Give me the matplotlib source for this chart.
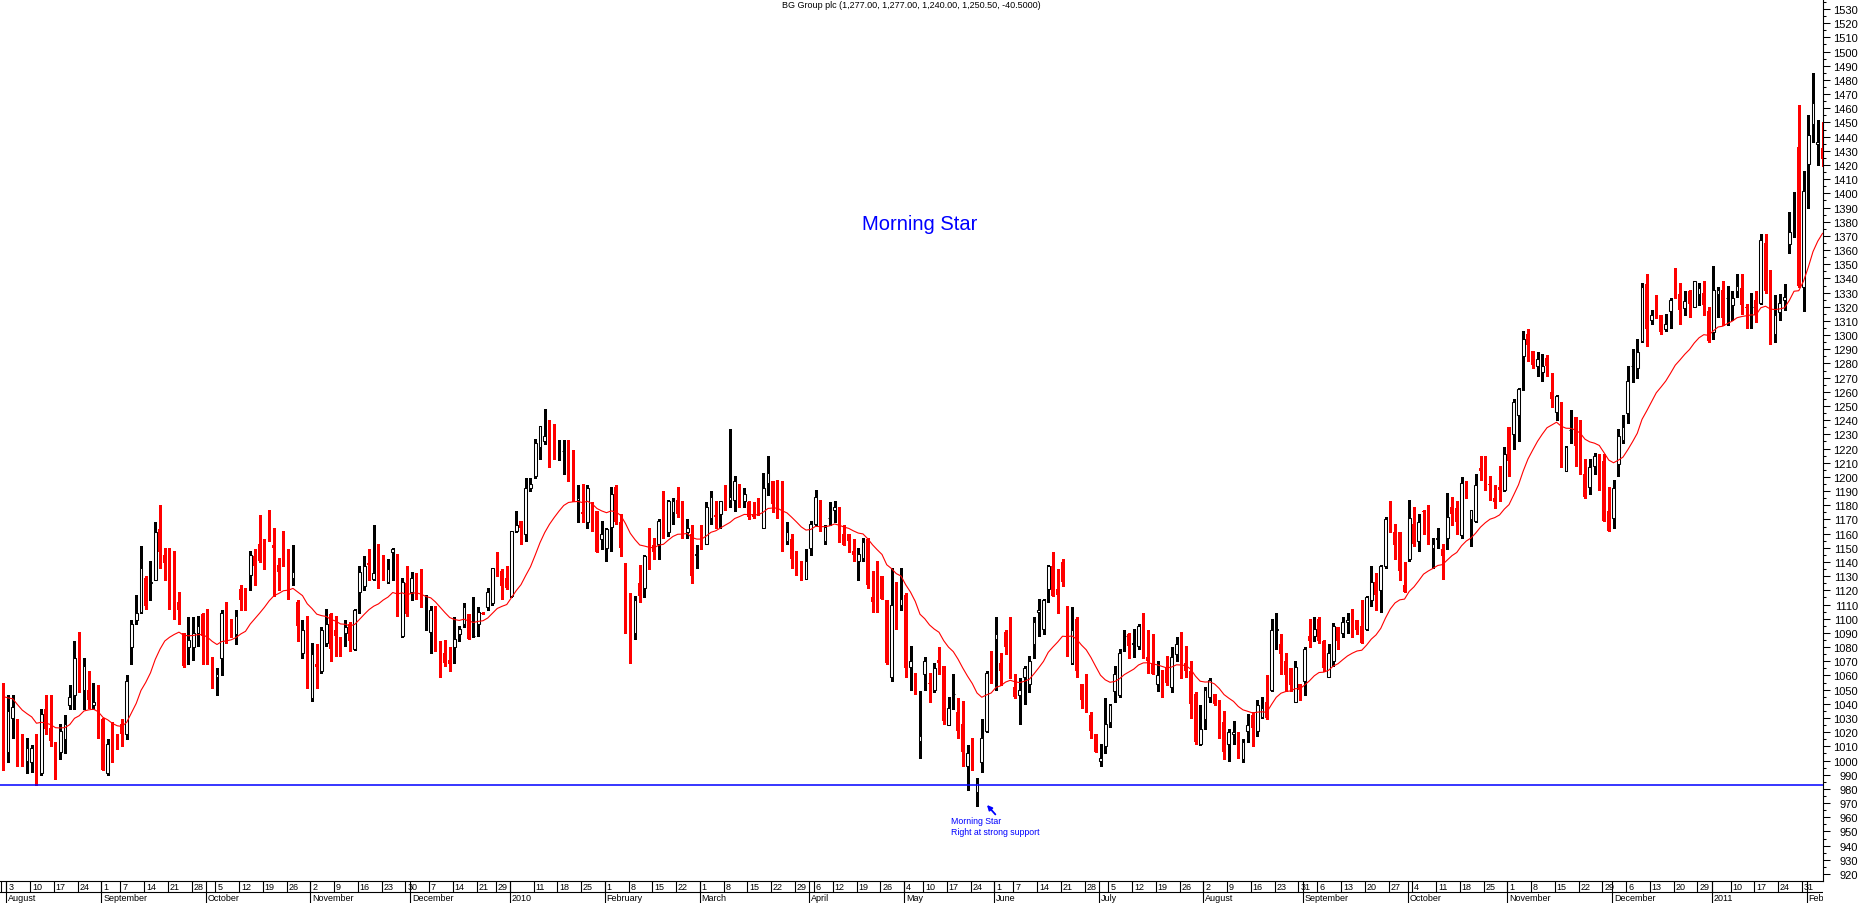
import numpy as np
import pandas as pd
import matplotlib.pyplot as plt
from matplotlib.ticker import MultipleLocator

plt.rcParams['font.family'] = ['Liberation Sans', 'DejaVu Sans']

# daily candles, BG Group plc, 31 Jul 2009 .. 4 Feb 2011
opens = [1038, 1006, 1030, 1016, 1003, 1000, 999, 1008, 991, 1036, 1023, 1010, 1006, 1015, 1039, 1046,
         1088, 1050, 1050, 1039, 1051, 1029, 991, 1022, 1013, 1026, 1019, 1080, 1099, 1105, 1129, 1125,
         1127, 1163, 1145, 1142, 1110, 1112, 1090, 1080, 1080, 1090, 1103, 1090, 1066, 1059, 1072, 1098,
         1097, 1089, 1121, 1116, 1131, 1144, 1153, 1151, 1164, 1152, 1138, 1139, 1148, 1129, 1112, 1076,
         1090, 1044, 1068, 1063, 1083, 1103, 1092, 1086, 1090, 1096, 1079, 1119, 1123, 1139, 1128, 1145,
         1141, 1126, 1147, 1143, 1088, 1125, 1119, 1122, 1134, 1100, 1091, 1093, 1080, 1076, 1071, 1080,
         1089, 1096, 1103, 1088, 1096, 1104, 1108, 1111, 1147, 1134, 1129, 1116, 1162, 1169, 1160, 1192,
         1201, 1221, 1225, 1236, 1228, 1218, 1218, 1206, 1210, 1184, 1175, 1168, 1177, 1176, 1156, 1150,
         1165, 1193, 1168, 1115, 1114, 1090, 1125, 1122, 1159, 1152, 1153, 1189, 1161, 1175, 1184, 1177,
         1161, 1160, 1145, 1162, 1153, 1171, 1173, 1174, 1193, 1184, 1184, 1186, 1183, 1182, 1174, 1177,
         1164, 1196, 1197, 1185, 1181, 1155, 1156, 1143, 1137, 1128, 1150, 1167, 1177, 1155, 1171, 1177,
         1178, 1160, 1160, 1148, 1141, 1143, 1156, 1115, 1119, 1130, 1113, 1059, 1119, 1110, 1117, 1066,
         1062, 1014, 1061, 1055, 1050, 1071, 1067, 1025, 1047, 1034, 1026, 996, 1016, 978, 999, 1021,
         1074, 1086, 1069, 1091, 1088, 1052, 1046, 1059, 1054, 1082, 1105, 1093, 1121, 1137, 1121, 1140,
         1100, 1069, 1100, 1054, 1054, 1032, 1019, 1000, 1010, 1027, 1049, 1046, 1088, 1089, 1082, 1081,
         1104, 1073, 1069, 1054, 1064, 1066, 1052, 1075, 1090, 1069, 1063, 1047, 1012, 1029, 1045, 1047,
         1043, 1027, 1012, 1019, 1012, 1001, 1021, 1032, 1021, 1031, 1041, 1050, 1092, 1082, 1070, 1065,
         1041, 1054, 1056, 1088, 1088, 1100, 1084, 1059, 1070, 1094, 1090, 1098, 1103, 1099, 1095, 1093,
         1113, 1126, 1120, 1137, 1171, 1161, 1161, 1124, 1142, 1167, 1155, 1176, 1180, 1150, 1156, 1149,
         1157, 1179, 1178, 1159, 1191, 1170, 1169, 1206, 1210, 1195, 1185, 1193, 1191, 1235, 1230, 1244,
         1285, 1301, 1289, 1278, 1274, 1284, 1260, 1246, 1248, 1204, 1233, 1242, 1234, 1202, 1193, 1208,
         1209, 1211, 1176, 1171, 1209, 1226, 1245, 1278, 1277, 1296, 1336, 1311, 1327, 1314, 1304, 1317,
         1336, 1329, 1319, 1331, 1320, 1329, 1330, 1317, 1302, 1329, 1332, 1326, 1321, 1331, 1333, 1320,
         1320, 1325, 1323, 1365, 1335, 1301, 1316, 1325, 1364, 1393, 1433, 1334, 1421, 1449, 1435, 1432]
highs = [1055, 1046, 1046, 1029, 1019, 1016, 1011, 1019, 1036, 1046, 1046, 1013, 1026, 1032, 1053, 1084,
         1091, 1072, 1063, 1055, 1053, 1030, 1015, 1027, 1019, 1029, 1060, 1099, 1117, 1151, 1130, 1141,
         1168, 1180, 1150, 1150, 1148, 1119, 1090, 1101, 1101, 1102, 1104, 1107, 1073, 1065, 1106, 1112,
         1100, 1106, 1124, 1122, 1148, 1149, 1173, 1156, 1177, 1164, 1143, 1162, 1149, 1152, 1113, 1099,
         1102, 1083, 1082, 1094, 1107, 1104, 1102, 1087, 1099, 1098, 1107, 1137, 1144, 1149, 1166, 1153,
         1145, 1142, 1150, 1146, 1129, 1137, 1133, 1132, 1135, 1117, 1109, 1109, 1084, 1085, 1080, 1101,
         1095, 1111, 1103, 1115, 1108, 1105, 1122, 1136, 1147, 1135, 1137, 1162, 1176, 1169, 1199, 1199,
         1227, 1236, 1248, 1240, 1237, 1226, 1226, 1226, 1219, 1194, 1195, 1194, 1182, 1176, 1169, 1164,
         1193, 1194, 1174, 1139, 1118, 1116, 1138, 1145, 1164, 1157, 1170, 1190, 1184, 1185, 1193, 1183,
         1170, 1166, 1152, 1166, 1182, 1190, 1183, 1183, 1194, 1234, 1201, 1195, 1192, 1183, 1182, 1185,
         1203, 1215, 1197, 1198, 1197, 1168, 1160, 1148, 1141, 1149, 1169, 1191, 1184, 1166, 1182, 1183,
         1179, 1166, 1160, 1156, 1150, 1157, 1157, 1134, 1141, 1130, 1113, 1136, 1126, 1136, 1118, 1081,
         1062, 1049, 1073, 1062, 1069, 1080, 1067, 1045, 1061, 1044, 1042, 1011, 1016, 988, 1029, 1063,
         1077, 1101, 1076, 1092, 1101, 1061, 1058, 1067, 1074, 1101, 1114, 1114, 1138, 1147, 1135, 1142,
         1109, 1108, 1101, 1054, 1061, 1034, 1019, 1012, 1044, 1040, 1067, 1079, 1092, 1090, 1093, 1096,
         1104, 1092, 1089, 1070, 1064, 1074, 1080, 1087, 1091, 1081, 1070, 1048, 1039, 1052, 1058, 1047,
         1043, 1035, 1022, 1028, 1020, 1015, 1033, 1034, 1043, 1045, 1060, 1100, 1104, 1089, 1076, 1065,
         1070, 1054, 1080, 1100, 1101, 1101, 1085, 1082, 1097, 1094, 1101, 1104, 1107, 1099, 1113, 1116,
         1137, 1132, 1138, 1172, 1183, 1167, 1161, 1140, 1184, 1179, 1174, 1177, 1180, 1157, 1164, 1153,
         1189, 1186, 1183, 1200, 1197, 1177, 1202, 1215, 1215, 1201, 1194, 1208, 1221, 1235, 1255, 1263,
         1303, 1304, 1289, 1288, 1287, 1286, 1273, 1258, 1253, 1222, 1247, 1242, 1240, 1213, 1213, 1217,
         1216, 1216, 1193, 1198, 1234, 1244, 1278, 1290, 1297, 1337, 1343, 1318, 1328, 1314, 1315, 1326,
         1347, 1337, 1331, 1332, 1338, 1337, 1338, 1320, 1349, 1334, 1338, 1335, 1331, 1343, 1343, 1322,
         1330, 1331, 1371, 1371, 1346, 1328, 1329, 1336, 1387, 1401, 1462, 1416, 1455, 1485, 1452, 1450]
lows = [993, 999, 1016, 996, 996, 991, 992, 983, 990, 1019, 1010, 987, 1001, 1005, 1036, 1036,
        1048, 1036, 1037, 1036, 1016, 993, 990, 999, 1008, 1010, 1015, 1068, 1096, 1104, 1107, 1113,
        1127, 1136, 1127, 1107, 1100, 1096, 1066, 1068, 1071, 1081, 1068, 1068, 1051, 1046, 1060, 1083,
        1087, 1082, 1106, 1106, 1120, 1124, 1140, 1135, 1155, 1116, 1120, 1137, 1114, 1124, 1084, 1072,
        1051, 1042, 1051, 1062, 1081, 1070, 1074, 1074, 1081, 1077, 1078, 1104, 1120, 1127, 1127, 1122,
        1127, 1125, 1127, 1102, 1087, 1102, 1113, 1114, 1108, 1092, 1076, 1077, 1059, 1067, 1063, 1069,
        1084, 1094, 1086, 1087, 1088, 1103, 1106, 1110, 1130, 1114, 1121, 1115, 1161, 1153, 1155, 1190,
        1199, 1213, 1223, 1207, 1213, 1212, 1202, 1197, 1183, 1168, 1168, 1164, 1162, 1147, 1149, 1141,
        1148, 1167, 1144, 1090, 1069, 1086, 1112, 1115, 1135, 1142, 1142, 1157, 1158, 1167, 1172, 1157,
        1157, 1125, 1136, 1149, 1153, 1167, 1164, 1164, 1177, 1179, 1176, 1179, 1179, 1170, 1171, 1173,
        1164, 1187, 1175, 1171, 1148, 1153, 1136, 1131, 1127, 1128, 1145, 1166, 1162, 1153, 1166, 1168,
        1154, 1152, 1147, 1141, 1127, 1141, 1122, 1105, 1105, 1114, 1068, 1056, 1093, 1106, 1059, 1050,
        1047, 1002, 1050, 1041, 1048, 1061, 1026, 1025, 1036, 1016, 996, 979, 993, 968, 992, 1020,
        1055, 1050, 1053, 1075, 1058, 1044, 1026, 1040, 1048, 1072, 1088, 1089, 1112, 1116, 1104, 1123,
        1074, 1068, 1059, 1037, 1034, 1016, 1006, 996, 1005, 1024, 1041, 1045, 1077, 1072, 1073, 1079,
        1072, 1062, 1061, 1049, 1045, 1053, 1048, 1070, 1058, 1059, 1030, 1012, 1011, 1022, 1041, 1039,
        1016, 1001, 1000, 1012, 1002, 999, 1013, 1010, 1017, 1030, 1029, 1049, 1079, 1061, 1049, 1049,
        1041, 1043, 1046, 1080, 1084, 1083, 1063, 1059, 1067, 1079, 1087, 1090, 1087, 1089, 1083, 1092,
        1109, 1106, 1105, 1136, 1161, 1142, 1127, 1119, 1141, 1151, 1148, 1160, 1153, 1136, 1150, 1128,
        1149, 1166, 1160, 1157, 1185, 1151, 1168, 1198, 1191, 1184, 1178, 1183, 1190, 1201, 1220, 1225,
        1261, 1282, 1277, 1271, 1268, 1271, 1249, 1240, 1207, 1204, 1224, 1208, 1202, 1185, 1188, 1202,
        1191, 1169, 1162, 1164, 1201, 1224, 1238, 1267, 1270, 1295, 1292, 1308, 1312, 1301, 1303, 1305,
        1326, 1308, 1314, 1313, 1320, 1321, 1314, 1295, 1297, 1313, 1307, 1307, 1311, 1327, 1315, 1305,
        1305, 1309, 1322, 1330, 1294, 1295, 1311, 1318, 1358, 1369, 1334, 1317, 1390, 1436, 1420, 1419]
closes = [999, 1035, 1038, 1000, 999, 1009, 1009, 984, 1033, 1022, 1014, 1003, 1021, 1026, 1045, 1072,
          1049, 1067, 1043, 1041, 1017, 993, 1012, 1002, 1009, 1019, 1056, 1096, 1104, 1136, 1109, 1126,
          1161, 1147, 1139, 1112, 1108, 1106, 1067, 1085, 1090, 1095, 1088, 1070, 1056, 1061, 1104, 1089,
          1092, 1102, 1113, 1109, 1145, 1137, 1141, 1147, 1156, 1150, 1133, 1138, 1124, 1133, 1095, 1092,
          1056, 1075, 1066, 1092, 1096, 1079, 1088, 1077, 1094, 1084, 1106, 1133, 1137, 1138, 1132, 1126,
          1139, 1135, 1149, 1108, 1126, 1103, 1129, 1121, 1108, 1100, 1106, 1084, 1072, 1069, 1068, 1086,
          1093, 1108, 1086, 1088, 1105, 1103, 1119, 1136, 1139, 1123, 1122, 1162, 1166, 1164, 1192, 1195,
          1224, 1236, 1229, 1222, 1217, 1218, 1218, 1202, 1187, 1185, 1174, 1192, 1163, 1147, 1160, 1163,
          1188, 1168, 1150, 1113, 1095, 1113, 1116, 1144, 1142, 1147, 1169, 1159, 1183, 1183, 1174, 1161,
          1164, 1130, 1146, 1156, 1179, 1186, 1172, 1183, 1185, 1186, 1197, 1185, 1188, 1172, 1172, 1174,
          1192, 1203, 1181, 1177, 1158, 1161, 1142, 1137, 1132, 1141, 1167, 1186, 1163, 1165, 1171, 1179,
          1158, 1152, 1155, 1145, 1146, 1154, 1124, 1112, 1115, 1114, 1069, 1110, 1098, 1114, 1065, 1070,
          1050, 1017, 1070, 1054, 1065, 1069, 1028, 1037, 1047, 1021, 1006, 1005, 1005, 984, 1016, 1062,
          1061, 1089, 1063, 1080, 1069, 1045, 1050, 1065, 1070, 1098, 1106, 1113, 1137, 1116, 1117, 1126,
          1085, 1092, 1063, 1043, 1046, 1021, 1006, 1002, 1026, 1039, 1061, 1076, 1088, 1081, 1083, 1095,
          1083, 1070, 1061, 1060, 1056, 1055, 1073, 1082, 1066, 1063, 1040, 1013, 1022, 1050, 1057, 1040,
          1020, 1006, 1020, 1020, 1004, 1013, 1025, 1023, 1039, 1037, 1030, 1092, 1093, 1075, 1060, 1053,
          1066, 1050, 1079, 1084, 1093, 1084, 1065, 1076, 1095, 1084, 1098, 1099, 1094, 1092, 1083, 1115,
          1126, 1117, 1137, 1170, 1167, 1152, 1134, 1119, 1171, 1153, 1168, 1175, 1155, 1153, 1157, 1144,
          1172, 1174, 1168, 1196, 1187, 1177, 1194, 1204, 1197, 1194, 1182, 1191, 1216, 1211, 1253, 1262,
          1297, 1293, 1279, 1283, 1278, 1278, 1255, 1257, 1209, 1221, 1233, 1222, 1210, 1186, 1207, 1215,
          1207, 1169, 1162, 1192, 1229, 1235, 1268, 1278, 1288, 1334, 1304, 1314, 1319, 1302, 1308, 1325,
          1333, 1318, 1324, 1322, 1338, 1333, 1321, 1296, 1332, 1332, 1312, 1326, 1326, 1335, 1321, 1319,
          1320, 1314, 1367, 1331, 1300, 1314, 1323, 1327, 1373, 1393, 1335, 1402, 1441, 1464, 1436, 1424]
ma_start = 1050   # moving average value at the left edge
support = 983

start_day = '2009-07-31'
end_day = '2011-02-04'
holidays = ['2009-08-31', '2009-12-25', '2009-12-28', '2010-01-01', '2010-04-02', '2010-04-05',
            '2010-05-03', '2010-05-31', '2010-08-30', '2010-12-27', '2010-12-28', '2011-01-03']
month_names = {1: None, 2: 'February', 3: 'March', 4: 'April', 5: 'May', 6: 'June', 7: 'July',
               8: 'August', 9: 'September', 10: 'October', 11: 'November', 12: 'December'}

title = "BG Group plc (1,277.00, 1,277.00, 1,240.00, 1,250.50, -40.5000)"

o = np.array(opens, float)
h = np.array(highs, float)
l = np.array(lows, float)
c = np.array(closes, float)
x = np.arange(len(c))
dates = pd.bdate_range(start_day, end_day, freq='C', holidays=holidays)

ema = pd.concat([pd.Series([ma_start]), pd.Series(c)]).ewm(span=20, adjust=False).mean().values[1:]

fig = plt.figure(figsize=(18.6, 9.04), dpi=100)
ax = fig.add_axes([0, 22 / 904, 1823 / 1860, 882 / 904])
axd = fig.add_axes([0, 0, 1823 / 1860, 22 / 904])

up = c >= o
ax.vlines(x[up], l[up], h[up], color='black', lw=0.75, zorder=2, antialiased=False)
ax.vlines(x[~up], l[~up], h[~up], color='red', lw=0.75, zorder=2, antialiased=False)
ax.bar(x[up], (c - o)[up], bottom=o[up], width=0.56, facecolor='white', edgecolor='black',
       linewidth=0.75, zorder=3)
ax.bar(x[~up], (o - c)[~up], bottom=c[~up], width=0.7, color='red', linewidth=0, zorder=3)
ax.plot(x, ema, color='red', lw=0.8, zorder=4)
ax.axhline(support, color='blue', lw=1.1, zorder=5)

xlim = (-0.68, 383.1)
ax.set_xlim(xlim)
ax.set_ylim(915.05, 1537.05)
ax.set_xticks([])
ax.yaxis.tick_right()
ax.set_yticks(np.arange(920, 1531, 10))
ax.yaxis.set_minor_locator(MultipleLocator(5))
ax.tick_params(axis='y', which='major', length=5, width=0.75, pad=20, labelsize=8, colors='black')
ax.tick_params(axis='y', which='minor', length=2.5, width=0.75)
for lab in ax.get_yticklabels():
    lab.set_horizontalalignment('right')
for s in ['left', 'top']:
    ax.spines[s].set_visible(False)
for s in ['right', 'bottom']:
    ax.spines[s].set_linewidth(0.8)

ax.text(0.5047, 0.745, 'Morning Star', transform=ax.transAxes, ha='center', va='center',
        fontsize=14.5, color='blue')
ax.text(0.5217, 0.0735, 'Morning Star\nRight at strong support', transform=ax.transAxes,
        ha='left', va='top', fontsize=6.3, color='blue', linespacing=1.25)
ax.annotate('', xy=(0.5414, 0.0862), xytext=(0.5460, 0.0755), xycoords='axes fraction',
            arrowprops=dict(arrowstyle='-|>', color='blue', lw=1.3, mutation_scale=7,
                            shrinkA=0, shrinkB=0))

fig.text(911 / 1860, 1 - 1.5 / 904, title, ha='center', va='top', fontsize=6.5)

# date band: week row on top, month row below
axd.set_xlim(xlim)
axd.set_ylim(0, 2)
axd.axis('off')
axd.axhline(1, color='black', lw=0.8)
axd.vlines(xlim[0] + 0.3, 1, 2, color='black', lw=0.8)
for j in range(1, len(dates)):
    d, p = dates[j], dates[j - 1]
    xs = j - 0.35
    new_month = d.month != p.month
    new_week = d.weekday() < p.weekday() or (d - p).days >= 7
    if new_month:
        axd.vlines(xs, 0, 2, color='black', lw=0.8)
        name = month_names[d.month] or str(d.year)
        axd.text(xs + 0.4, 0.5, name, ha='left', va='center', fontsize=6.5, clip_on=True)
    if new_week:
        axd.vlines(xs, 1, 2, color='black', lw=0.8)
        if not (new_month and d.month == 1):
            axd.text(xs + 0.4, 1.5, str(d.day), ha='left', va='center', fontsize=6.5)

fig.savefig('out.png', dpi=100)
